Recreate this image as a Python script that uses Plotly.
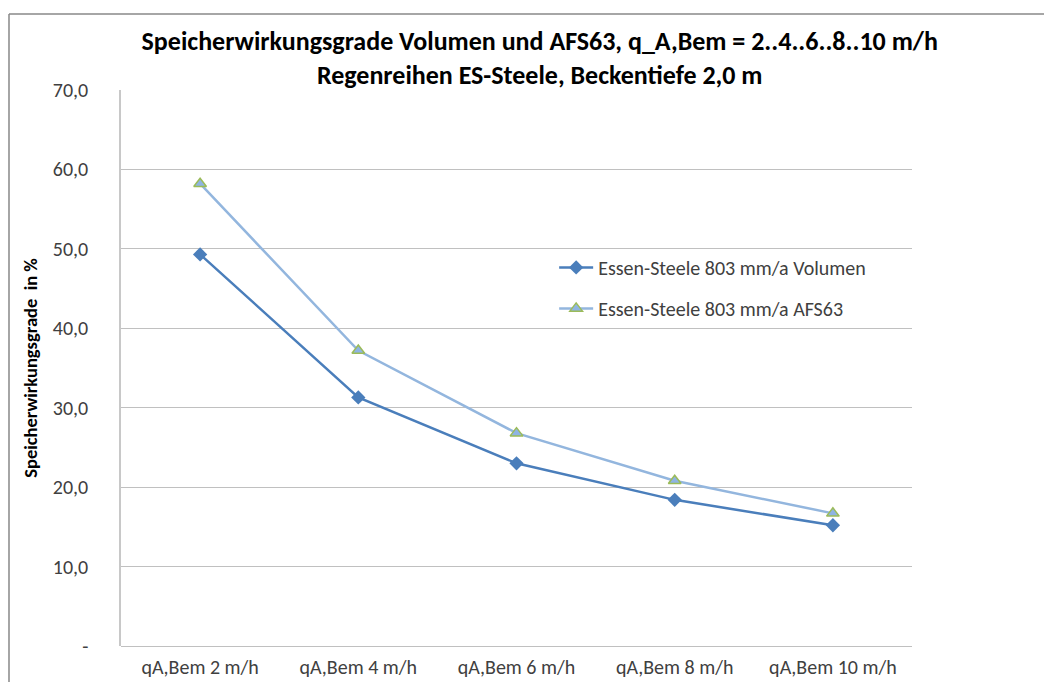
import plotly.graph_objects as go

categories = ['qA,Bem 2 m/h', 'qA,Bem 4 m/h', 'qA,Bem 6 m/h', 'qA,Bem 8 m/h', 'qA,Bem 10 m/h']
volumen = [49.3, 31.3, 23.0, 18.4, 15.2]
afs63 = [58.2, 37.2, 26.8, 20.8, 16.7]
y_ticks = [0, 10, 20, 30, 40, 50, 60, 70]
y_ticktext = ['-', '10,0', '20,0', '30,0', '40,0', '50,0', '60,0', '70,0']

FONT = 'Carlito, Calibri, Lato, sans-serif'

fig = go.Figure()
fig.add_trace(go.Scatter(
    x=categories, y=volumen, name='Essen-Steele 803 mm/a Volumen',
    mode='lines+markers', legendgroup='a',
    line=dict(color='#4A7EBB', width=2.5),
    marker=dict(symbol='diamond', size=11, color='#4A7EBB')
))
fig.add_trace(go.Scatter(
    x=categories, y=afs63, name='Essen-Steele 803 mm/a AFS63',
    mode='lines+markers', legendgroup='b',
    line=dict(color='#93B6DE', width=2.5),
    marker=dict(symbol='triangle-up', size=11, color='#8EB4E3',
                line=dict(color='#9BBB59', width=1.5))
))

fig.update_layout(
    width=1044, height=682,
    margin=dict(l=121, r=132, t=90, b=36),
    paper_bgcolor='white', plot_bgcolor='white',
    font=dict(family=FONT, size=20, color='#404040'),
    title=dict(
        text='<b>Speicherwirkungsgrade Volumen und AFS63, q_A,Bem = 2..4..6..8..10 m/h<br>Regenreihen ES-Steele, Beckentiefe 2,0 m</b>',
        x=0.517, xanchor='center', y=0.927, yanchor='top',
        font=dict(family=FONT, size=26, color='black')
    ),
    legend=dict(
        x=0.5476, y=0.716, xanchor='left', yanchor='top',
        bgcolor='rgba(0,0,0,0)', tracegroupgap=12, itemwidth=34,
        font=dict(family=FONT, size=20, color='#404040')
    ),
    xaxis=dict(
        range=[-0.5, 4.5], automargin=False,
        showgrid=False, showline=False, ticks='',
        tickfont=dict(size=20), ticklabelstandoff=7
    ),
    yaxis=dict(
        range=[0, 70], tickvals=y_ticks, ticktext=y_ticktext, automargin=False,
        showgrid=True, gridcolor='#C0C0C0', gridwidth=1,
        showline=True, linecolor='#C8C8C8', linewidth=1.5,
        zeroline=True, zerolinecolor='#C0C0C0', zerolinewidth=1,
        ticks='', ticklabelstandoff=27, tickfont=dict(size=20),
        title=dict(text='<b>Speicherwirkungsgrade  in %</b>', standoff=10,
                   font=dict(family=FONT, size=18.5, color='black'))
    ),
    shapes=[
        dict(type='line', xref='paper', yref='paper', x0=-0.1416, x1=1.2,
             y0=1.1367, y1=1.1367, line=dict(color='#888888', width=1.5)),
        dict(type='line', xref='paper', yref='paper', x0=-0.1416, x1=-0.1416,
             y0=1.1367, y1=-0.1, line=dict(color='#888888', width=1.5)),
    ]
)

# page body has a default margin; remove it so the figure sits at 0,0
fig.write_html('out.html', config={'displayModeBar': False},
               post_script="document.body.style.margin='0px';")
